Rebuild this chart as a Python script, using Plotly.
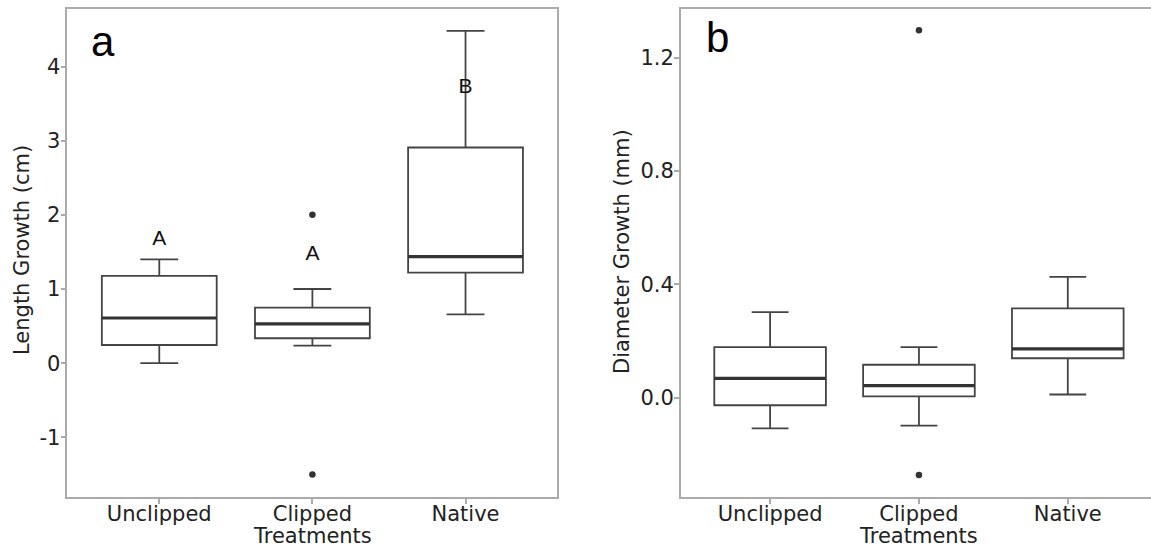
import plotly.graph_objects as go

# ---------------- data ----------------
categories = ["Unclipped", "Clipped", "Native"]
cat_pos = [0, 1, 2]

# Panel a: Length Growth (cm)
len_lower = [0.0, 0.236, 0.659]
len_q1 = [0.245, 0.336, 1.22]
len_median = [0.609, 0.529, 1.436]
len_q3 = [1.176, 0.748, 2.908]
len_upper = [1.401, 1.0, 4.48]
len_out_x = [1, 1]
len_out_y = [2.0, -1.5]
len_letters = ["A", "A", "B"]
len_letter_y = [1.66, 1.46, 3.72]
len_tickvals = [-1, 0, 1, 2, 3, 4]
len_ticktext = ["-1", "0", "1", "2", "3", "4"]

# Panel b: Diameter Growth (mm)
dia_lower = [-0.109, -0.099, 0.011]
dia_q1 = [-0.027, 0.004, 0.139]
dia_median = [0.068, 0.042, 0.172]
dia_q3 = [0.178, 0.116, 0.315]
dia_upper = [0.302, 0.178, 0.426]
dia_out_x = [1, 1]
dia_out_y = [1.297, -0.273]
dia_tickvals = [0.0, 0.4, 0.8, 1.2]
dia_ticktext = ["0.0", "0.4", "0.8", "1.2"]

# ---------------- style ----------------
W, H = 1151, 548
BOX_C = "#444444"
MED_C = "#333333"
FRAME_C = "#ababab"
TXT_C = "#222222"
TICK_FONT = dict(family="DejaVu Sans", size=21, color=TXT_C)
BOX_W = 0.75


def px_x(p):
    return p / W


def px_y(p):
    return 1 - p / H


fig = go.Figure()


def add_panel(xa, ya, lower, q1, med, q3, upper, out_x, out_y):
    fig.add_trace(go.Box(
        x=cat_pos, q1=q1, median=med, q3=q3, lowerfence=lower, upperfence=upper,
        width=BOX_W, whiskerwidth=0.33, fillcolor="white",
        line=dict(color=BOX_C, width=1.8), boxpoints=False,
        xaxis=xa, yaxis=ya, showlegend=False, hoverinfo="skip"))
    mx, my = [], []
    for p, m in zip(cat_pos, med):
        mx += [p - BOX_W / 2, p + BOX_W / 2, None]
        my += [m, m, None]
    fig.add_trace(go.Scatter(x=mx, y=my, mode="lines",
                             line=dict(color=MED_C, width=3.2),
                             xaxis=xa, yaxis=ya, showlegend=False, hoverinfo="skip"))
    fig.add_trace(go.Scatter(x=out_x, y=out_y, mode="markers",
                             marker=dict(color=MED_C, size=6.5),
                             xaxis=xa, yaxis=ya, showlegend=False, hoverinfo="skip"))


add_panel("x", "y", len_lower, len_q1, len_median, len_q3, len_upper, len_out_x, len_out_y)
add_panel("x2", "y2", dia_lower, dia_q1, dia_median, dia_q3, dia_upper, dia_out_x, dia_out_y)

# significance letters
fig.add_trace(go.Scatter(x=cat_pos, y=len_letter_y, mode="text", text=len_letters,
                         textfont=dict(family="Liberation Sans", size=21, color="#111111"),
                         textposition="middle center",
                         xaxis="x", yaxis="y", showlegend=False, hoverinfo="skip"))

y_top, y_bot = 8.8, 496.7
axis_common = dict(showgrid=False, zeroline=False, showline=True, linecolor=FRAME_C,
                   linewidth=1.6, ticks="outside", ticklen=5, tickcolor=FRAME_C,
                   tickwidth=1.5, tickfont=TICK_FONT)

fig.update_layout(
    width=W, height=H, margin=dict(l=0, r=0, t=0, b=0),
    paper_bgcolor="white", plot_bgcolor="white",
    xaxis=dict(domain=[px_x(67.4), px_x(557.4)], range=[-0.6, 2.6],
               tickvals=cat_pos, ticktext=categories, mirror=True,
               anchor="y", ticklabelstandoff=-8, **axis_common),
    yaxis=dict(domain=[px_y(y_bot), px_y(y_top)], range=[-1.80, 4.778],
               tickvals=len_tickvals, ticktext=len_ticktext, mirror=True,
               anchor="x", ticklabelstandoff=-4, **axis_common),
    xaxis2=dict(domain=[px_x(680.8), 1.0], range=[-0.6, 2.559],
                tickvals=cat_pos, ticktext=categories, mirror=True,
                anchor="y2", ticklabelstandoff=-8, **axis_common),
    yaxis2=dict(domain=[px_y(y_bot), px_y(y_top)], range=[-0.350, 1.373],
                tickvals=dia_tickvals, ticktext=dia_ticktext, mirror=False,
                anchor="x2", ticklabelstandoff=-4, **axis_common),
)

ann_font = dict(family="DejaVu Sans", size=21, color=TXT_C)
annotations = [
    dict(text="a", x=px_x(89), y=px_y(42), xref="paper", yref="paper",
         xanchor="left", yanchor="middle", showarrow=False,
         font=dict(family="Liberation Sans", size=42, color="black")),
    dict(text="b", x=px_x(704), y=px_y(37), xref="paper", yref="paper",
         xanchor="left", yanchor="middle", showarrow=False,
         font=dict(family="Liberation Sans", size=42, color="black")),
    dict(text="Length Growth (cm)", x=px_x(22), y=px_y(250), xref="paper", yref="paper",
         textangle=-90, xanchor="center", yanchor="middle", showarrow=False, font=ann_font),
    dict(text="Diameter Growth (mm)", x=px_x(622), y=px_y(252), xref="paper", yref="paper",
         textangle=-90, xanchor="center", yanchor="middle", showarrow=False, font=ann_font),
    dict(text="Treatments", x=1, y=px_y(536), xref="x", yref="paper",
         xanchor="center", yanchor="middle", showarrow=False, font=ann_font),
    dict(text="Treatments", x=1, y=px_y(536), xref="x2", yref="paper",
         xanchor="center", yanchor="middle", showarrow=False, font=ann_font),
]
fig.update_layout(annotations=annotations)

fig.write_html("out.html", config={"displayModeBar": False},
               post_script="document.body.style.margin='0';document.body.style.overflow='hidden';")
